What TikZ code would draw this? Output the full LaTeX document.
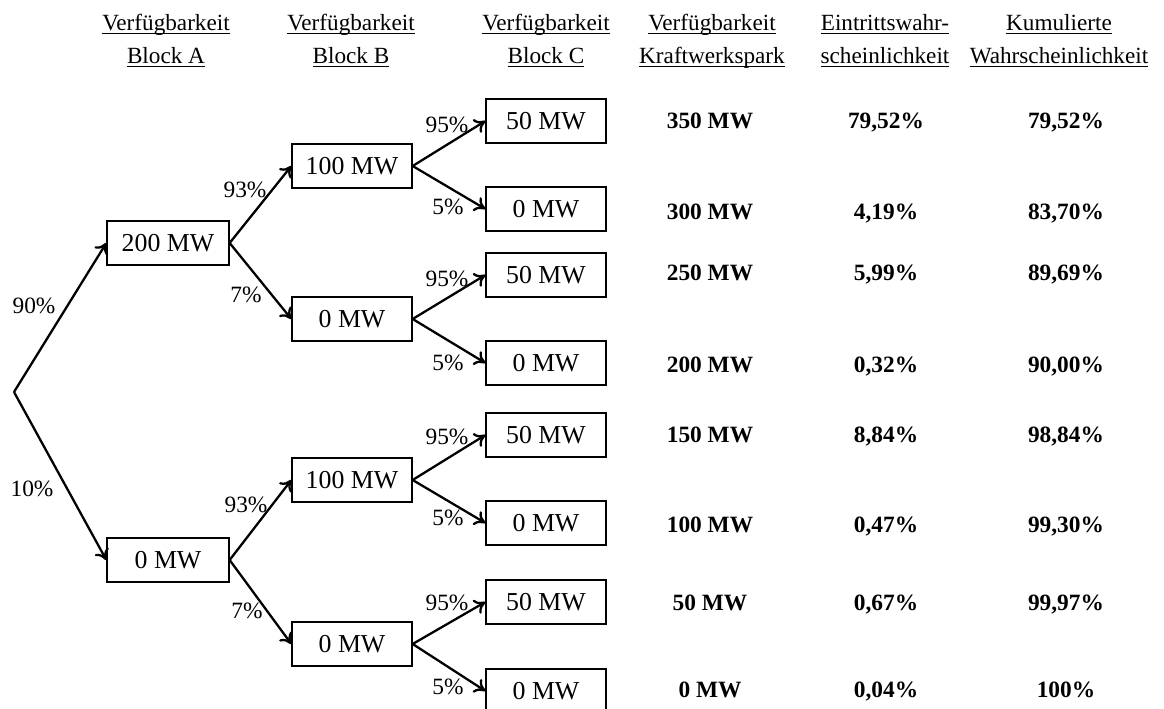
\documentclass[tikz,border=0pt]{standalone}
\usepackage{fontspec}
\setmainfont{Liberation Serif}
\usetikzlibrary{arrows.meta}

\newcommand{\headline}[1]{\underline{\smash{#1}}}

\tikzset{
  mwbox/.style={draw, line width=0.75pt, minimum width=2.4cm, minimum height=0.88cm, inner sep=0pt,
    font=\fontsize{14.7}{16}\selectfont},
  prob/.style={inner sep=0pt, text height=8.8pt, text depth=0pt, font=\fontsize{13.3}{15}\selectfont},
  result/.style={inner sep=0pt, text height=8.8pt, text depth=0pt, font=\fontsize{13.3}{15}\selectfont\bfseries},
  head/.style={align=center, inner sep=0pt, font=\fontsize{13.2}{18.7}\selectfont},
  branch/.style={-{To[length=6pt,width=9pt]}, line width=1.3pt}
}

\begin{document}
\begin{tikzpicture}[x=0.02cm, y=-0.02cm]
        \clip (0, 0) rectangle (1164, 709);

        % column headers
        \node[head] (hA) at (166, 49) {\headline{Verfügbarkeit}\\\headline{Block A}};
        \node[head] (hB) at (351, 49) {\headline{Verfügbarkeit}\\\headline{Block B}};
        \node[head] (hC) at (546, 49) {\headline{Verfügbarkeit}\\\headline{Block C}};
        \node[head] (hP) at (712, 49) {\headline{Verfügbarkeit}\\\headline{Kraftwerkspark}};
        \node[head] (hE) at (885, 49) {\headline{Eintrittswahr-}\\\headline{scheinlichkeit}};
        \node[head] (hK) at (1059, 49) {\headline{Kumulierte}\\\headline{Wahrscheinlichkeit}};

        % tree
        \coordinate (root) at (14, 392);
        \node[mwbox, minimum width=2.44cm] (a1) at (168, 243) {200 MW};
        \node[mwbox, minimum width=2.44cm] (a2) at (168, 560) {0 MW};

        \node[mwbox] (b1) at (352, 166) {100 MW};
        \node[mwbox] (b2) at (352, 319) {0 MW};
        \node[mwbox] (b3) at (352, 480) {100 MW};
        \node[mwbox] (b4) at (352, 644) {0 MW};

        \foreach \y/\txt [count=\i] in {121/50 MW, 209/0 MW, 275/50 MW, 363/0 MW,
                                         435/50 MW, 523/0 MW, 602/50 MW, 691/0 MW}
            \node[mwbox] (c\i) at (546, \y) {\txt};

        \draw[branch] (root) -- (a1.west);
        \draw[branch] (root) -- (a2.west);
        \foreach \from/\to in {a1/b1, a1/b2, a2/b3, a2/b4}
            \draw[branch] (\from.east) -- (\to.west);
        \foreach \i in {1, ..., 4} {
            \pgfmathtruncatemacro\up{2*\i-1}
            \pgfmathtruncatemacro\dn{2*\i}
            \draw[branch] (b\i.east) -- (c\up.west);
            \draw[branch] (b\i.east) -- (c\dn.west);
        }

        % branch probabilities
        \node[prob] (p90) at (34, 306) {90\%};
        \node[prob] (p10) at (32, 489) {10\%};
        \node[prob] (p93a) at (245, 190) {93\%};
        \node[prob] (p7a) at (246, 295) {7\%};
        \node[prob] (p93b) at (246, 505) {93\%};
        \node[prob] (p7b) at (247, 611) {7\%};
        \foreach \y [count=\i] in {125, 279, 437, 603}
            \node[prob] (p95\i) at (447, \y) {95\%};
        \foreach \y [count=\i] in {207, 363, 518, 687}
            \node[prob] (p5\i) at (448, \y) {5\%};

        % results
        \foreach \y/\park/\occ/\cum [count=\i] in {
                121/350 MW/{79,52}/{79,52}, 212/300 MW/{4,19}/{83,70},
                273/250 MW/{5,99}/{89,69}, 365/200 MW/{0,32}/{90,00},
                435/150 MW/{8,84}/{98,84}, 525/100 MW/{0,47}/{99,30},
                603/50 MW/{0,67}/{99,97}, 690/0 MW/{0,04}/100} {
            \node[result] (park\i) at (710, \y) {\park};
            \node[result] (occ\i) at (886, \y) {\occ\%};
            \node[result] (cum\i) at (1066, \y) {\cum\%};
        }
    \end{tikzpicture}
\end{document}
